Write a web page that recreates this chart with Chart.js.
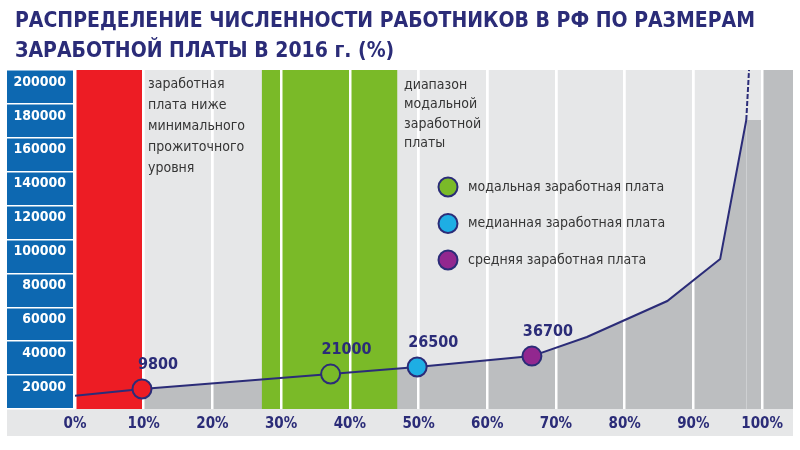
<!DOCTYPE html>
<html lang="ru">
<head>
<meta charset="utf-8">
<title>Распределение численности работников в РФ по размерам заработной платы в 2016 г.</title>
<script src="https://cdn.jsdelivr.net/npm/chart.js@4/dist/chart.umd.min.js"></script>
<style>
  html, body { margin: 0; padding: 0; background: #fff; }
</style>
</head>
<body>
<canvas id="wageChart" width="800" height="450"></canvas>
<script>
// --------------------
// Data (the original y axis is not drawn to scale)
// --------------------
const titleLines = [
    'РАСПРЕДЕЛЕНИЕ ЧИСЛЕННОСТИ РАБОТНИКОВ В РФ ПО РАЗМЕРАМ',
    'ЗАРАБОТНОЙ ПЛАТЫ В 2016 г. (%)'
];

// share of workers (%) -> wage level; last point only closes the grey fill at 100%
const curvePct  = [0,    9.75,  37.2,  49.8,  66.5,  74.5,  86.2,  93.9,  97.7,   100];
const curveWage = [7800, 11800, 20600, 24800, 31200, 42500, 63700, 88500, 170500, 170500];

// dashed tail going off the top
const tailPct  = [97.7,   98.1];
const tailWage = [170500, 200000];

// highlighted points
const markerPct    = [9.75,  37.2,  49.8,  66.5];
const markerWage   = [11800, 20600, 24800, 31200];
const markerLabels = ['9800', '21000', '26500', '36700'];

const legendLabels = [
    'модальная заработная плата',
    'медианная заработная плата',
    'средняя заработная плата'
];

// vertical bands: below subsistence level, modal range, beyond 100%
const bandFrom = [0,  27.2, 100];
const bandTo   = [10, 46.9, 104.5];

const noteLow   = ['заработная', 'плата ниже', 'минимального', 'прожиточного', 'уровня'];
const noteModal = ['диапазон', 'модальной', 'заработной', 'платы'];

// --------------------
// Styles
// --------------------
const FONT   = '"DejaVu Sans Condensed", "DejaVu Sans", sans-serif';
const NAVY   = '#2b2c78';
const BLUE   = '#0d68b1';
const LIGHT  = '#e6e7e8';
const DARK   = '#bcbec0';
const TEXT   = '#353535';
const markerColors = ['#ed1c24', '#7aba28', '#1eaee4', '#92278f'];
const bandColors   = ['#ed1c24', '#7aba28', DARK];

// Backgrounds, bands, and all free text
const decor = {
    id: 'decor',
    beforeDraw(chart) {
        const { ctx, chartArea: a, scales: { x, y } } = chart;
        ctx.save();
        ctx.fillStyle = LIGHT;
        ctx.fillRect(a.left, a.top, a.right - a.left, a.bottom - a.top);
        ctx.fillRect(y.left, x.top, a.right - y.left, x.bottom - x.top);
        ctx.fillStyle = BLUE;
        ctx.fillRect(y.left, a.top, y.right - y.left - 2, a.bottom - a.top);
        ctx.restore();
    },
    beforeDatasetsDraw(chart) {
        const { ctx, chartArea: a, scales: { x } } = chart;
        ctx.save();
        bandFrom.forEach((from, i) => {
            const l = x.getPixelForValue(from);
            const r = x.getPixelForValue(bandTo[i]);
            ctx.fillStyle = bandColors[i];
            ctx.fillRect(l, a.top, r - l, a.bottom - a.top);
        });
        ctx.restore();
        // white grid lines sit on top of the fill and the bands
        x.drawGrid(a);
    },
    afterDraw(chart) {
        const { ctx, scales: { x, y } } = chart;
        ctx.save();

        // title
        ctx.fillStyle = NAVY;
        ctx.font = `bold 21px ${FONT}`;
        ctx.textBaseline = 'alphabetic';
        ctx.fillText(titleLines[0], 15, 27);
        ctx.fillText(titleLines[1], 15, 57);

        // notes
        ctx.fillStyle = TEXT;
        ctx.font = `14px ${FONT}`;
        ctx.textBaseline = 'middle';
        noteLow.forEach((t, i) => ctx.fillText(t, 148, 84 + i * 21));
        noteModal.forEach((t, i) => ctx.fillText(t, 404, 85 + i * 19.5));

        // value labels above markers
        ctx.fillStyle = NAVY;
        ctx.font = `bold 16px ${FONT}`;
        ctx.textAlign = 'center';
        markerLabels.forEach((t, i) => {
            ctx.fillText(t, x.getPixelForValue(markerPct[i]) + 16, y.getPixelForValue(markerWage[i]) - 24);
        });

        // legend
        ctx.textAlign = 'left';
        ctx.font = `14px ${FONT}`;
        legendLabels.forEach((t, i) => {
            const cy = 187 + i * 36.5;
            ctx.beginPath();
            ctx.arc(448, cy, 9.5, 0, Math.PI * 2);
            ctx.fillStyle = markerColors[i + 1];
            ctx.fill();
            ctx.lineWidth = 2;
            ctx.strokeStyle = NAVY;
            ctx.stroke();
            ctx.fillStyle = TEXT;
            ctx.fillText(t, 468, cy);
        });
        ctx.restore();
    }
};

const lastIdx = curvePct.length - 1;

new Chart(document.getElementById('wageChart'), {
    type: 'line',
    data: {
        datasets: [
            {
                label: 'markers',
                data: markerPct.map((p, i) => ({ x: p, y: markerWage[i] })),
                showLine: false,
                pointRadius: 9.5,
                pointBorderWidth: 2,
                pointBorderColor: NAVY,
                pointBackgroundColor: markerColors
            },
            {
                label: 'tail',
                data: tailPct.map((p, i) => ({ x: p, y: tailWage[i] })),
                borderColor: NAVY,
                borderWidth: 2,
                borderDash: [5, 2],
                pointRadius: 0,
                fill: false
            },
            {
                label: 'curve',
                data: curvePct.map((p, i) => ({ x: p, y: curveWage[i] })),
                borderColor: NAVY,
                borderWidth: 2,
                pointRadius: 0,
                tension: 0,
                fill: 'origin',
                backgroundColor: DARK,
                segment: {
                    borderColor: c => c.p1DataIndex === lastIdx ? 'rgba(0,0,0,0)' : NAVY
                }
            }
        ]
    },
    options: {
        responsive: false,
        animation: false,
        layout: { autoPadding: false, padding: { top: 70, left: 7, right: 7, bottom: 14 } },
        plugins: {
            legend: { display: false },
            tooltip: { enabled: false },
            filler: { drawTime: 'beforeDatasetsDraw' }
        },
        scales: {
            x: {
                type: 'linear',
                min: 0,
                max: 104.5,
                afterFit: s => { s.height = 27; s.paddingLeft = 0; s.paddingRight = 0; },
                border: { display: false },
                grid: { color: '#ffffff', lineWidth: 2.5, drawTicks: false },
                ticks: {
                    stepSize: 10,
                    includeBounds: false,
                    autoSkip: false,
                    maxRotation: 0,
                    padding: 6,
                    color: NAVY,
                    font: { family: FONT, size: 15, weight: 'bold' },
                    callback: v => v + '%'
                }
            },
            y: {
                type: 'linear',
                min: 0,
                max: 200000,
                afterFit: s => { s.width = 68; },
                border: { display: false },
                grid: { drawOnChartArea: false, color: '#ffffff', lineWidth: 1.5, tickLength: 68 },
                ticks: {
                    stepSize: 20000,
                    autoSkip: false,
                    padding: -59,
                    labelOffset: 12,
                    color: '#ffffff',
                    font: { family: FONT, size: 14, weight: 'bold' },
                    callback: v => v === 0 ? '' : String(v)
                }
            }
        }
    },
    plugins: [decor]
});
</script>
</body>
</html>
